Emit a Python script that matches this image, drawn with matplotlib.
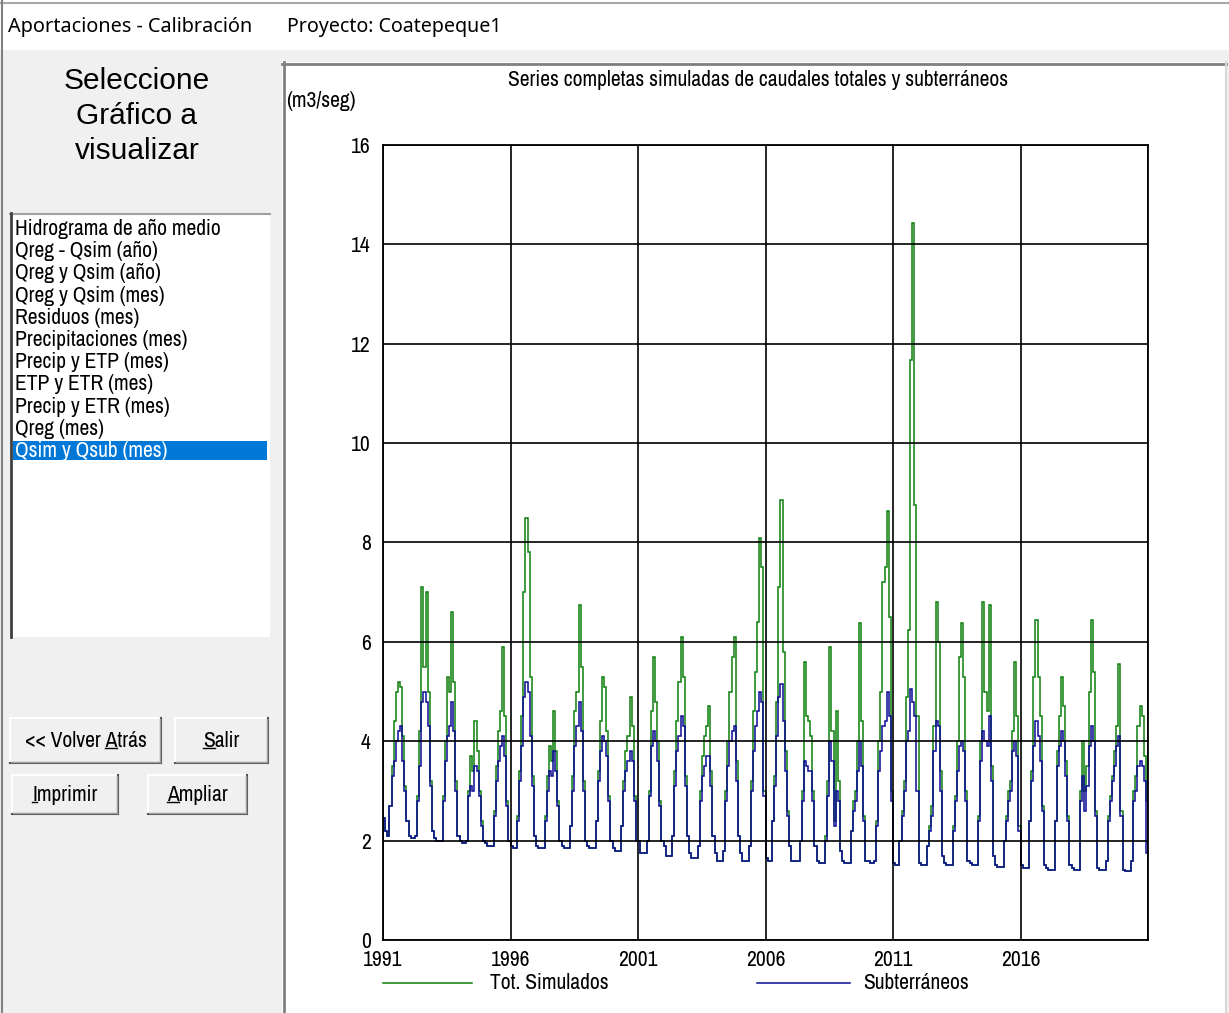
import numpy as np
import matplotlib
matplotlib.use('Agg')
import matplotlib.pyplot as plt
from matplotlib.patches import Rectangle
from matplotlib import font_manager as fm

# monthly simulated flows (m3/seg), one row per year, Jan..Dec
years = list(range(1991, 2021))
tot_sim = [
    [2.45, 2.2, 2.1, 2.7, 3.5, 4.4, 5.0, 5.2, 5.1, 4.1, 3.1, 2.4],    # 1991
    [2.1, 2.05, 2.05, 2.1, 2.9, 4.2, 7.1, 5.5, 7.0, 5.0, 3.2, 2.2],   # 1992
    [2.05, 2.0, 2.0, 2.0, 2.9, 4.0, 5.3, 5.0, 6.6, 5.2, 3.2, 2.1],    # 1993
    [2.0, 1.95, 1.95, 2.0, 3.0, 3.7, 3.4, 4.4, 3.8, 3.0, 2.4, 2.0],   # 1994
    [1.95, 1.9, 1.9, 1.9, 2.6, 3.5, 4.2, 4.6, 5.9, 4.5, 2.8, 2.0],    # 1995
    [1.9, 1.85, 1.85, 2.5, 3.4, 4.5, 7.0, 8.5, 7.8, 5.3, 3.3, 2.1],   # 1996
    [1.9, 1.85, 1.85, 1.85, 2.5, 3.3, 3.9, 3.6, 4.6, 3.8, 2.8, 2.0],  # 1997
    [1.9, 1.85, 1.85, 1.85, 2.3, 3.3, 4.6, 5.0, 6.75, 5.5, 3.2, 2.0], # 1998
    [1.9, 1.85, 1.85, 1.85, 2.4, 3.4, 4.4, 5.3, 5.1, 4.2, 2.9, 2.0],  # 1999
    [1.85, 1.8, 1.8, 1.8, 2.3, 3.2, 3.8, 4.1, 4.9, 4.3, 2.9, 2.0],    # 2000
    [2.0, 1.75, 1.75, 1.75, 2.0, 3.0, 4.6, 5.7, 4.8, 4.0, 2.8, 2.0],  # 2001
    [1.9, 1.7, 1.7, 1.7, 2.1, 3.4, 4.4, 5.2, 6.1, 5.3, 3.3, 2.1],     # 2002
    [1.75, 1.65, 1.65, 1.65, 1.9, 3.0, 3.7, 4.1, 4.3, 4.7, 3.4, 2.1], # 2003
    [1.75, 1.6, 1.6, 1.6, 1.8, 3.0, 4.0, 5.0, 5.7, 6.1, 3.6, 2.1],    # 2004
    [1.75, 1.6, 1.6, 1.6, 1.9, 3.2, 4.6, 5.4, 6.4, 8.1, 7.5, 3.0],    # 2005
    [1.65, 1.6, 1.6, 2.4, 3.3, 4.8, 7.1, 8.85, 5.8, 3.8, 2.6, 1.9],   # 2006
    [1.6, 1.6, 1.6, 1.6, 2.0, 3.0, 5.6, 4.5, 4.4, 4.1, 3.0, 1.9],     # 2007
    [1.6, 1.55, 1.55, 1.55, 2.1, 3.2, 5.9, 4.2, 2.4, 4.6, 3.2, 1.8],  # 2008
    [1.6, 1.55, 1.55, 1.55, 2.2, 2.8, 3.0, 4.0, 6.37, 4.4, 2.5, 1.6], # 2009
    [1.6, 1.55, 1.55, 1.6, 2.4, 4.0, 5.0, 7.2, 7.5, 8.63, 6.5, 3.0],  # 2010
    [1.55, 1.5, 1.5, 2.0, 2.6, 3.2, 4.9, 6.24, 11.67, 14.43, 8.76, 4.5],  # 2011
    [1.55, 1.5, 1.5, 1.5, 1.9, 2.3, 2.7, 4.3, 6.8, 6.0, 3.4, 1.7],    # 2012
    [1.55, 1.5, 1.5, 1.5, 2.3, 2.9, 4.0, 5.7, 6.38, 5.3, 3.0, 1.6],   # 2013
    [1.55, 1.5, 1.5, 1.5, 2.5, 4.0, 6.8, 5.0, 4.6, 6.75, 3.5, 1.7],   # 2014
    [1.5, 1.47, 1.47, 1.47, 2.0, 2.5, 3.0, 3.2, 4.2, 5.6, 4.5, 2.3],  # 2015
    [1.5, 1.45, 1.45, 1.45, 2.4, 3.4, 5.3, 6.45, 5.3, 4.5, 2.7, 1.5], # 2016
    [1.45, 1.4, 1.4, 1.4, 2.4, 3.8, 4.5, 5.3, 4.7, 3.6, 2.5, 1.5],    # 2017
    [1.45, 1.4, 1.4, 1.4, 3.0, 4.0, 3.0, 3.5, 5.0, 6.45, 5.4, 2.6],   # 2018
    [1.45, 1.4, 1.4, 1.4, 1.6, 2.5, 2.9, 3.3, 3.8, 4.3, 5.55, 2.6],   # 2019
    [1.4, 1.38, 1.38, 1.38, 1.6, 3.0, 3.3, 4.3, 4.7, 4.5, 3.7, 2.8],  # 2020
]
subterraneos = [
    [2.45, 2.2, 2.1, 2.7, 3.3, 3.6, 4.0, 4.2, 4.3, 3.6, 3.0, 2.4],    # 1991
    [2.1, 2.05, 2.05, 2.1, 2.8, 3.5, 4.8, 5.0, 4.8, 4.3, 3.1, 2.2],   # 1992
    [2.05, 2.0, 2.0, 2.0, 2.8, 3.6, 4.1, 4.3, 4.8, 4.2, 3.0, 2.1],    # 1993
    [2.0, 1.95, 1.95, 2.0, 2.9, 3.1, 3.0, 3.5, 3.4, 2.9, 2.3, 2.0],   # 1994
    [1.95, 1.9, 1.9, 1.9, 2.5, 3.2, 3.6, 3.9, 4.1, 3.7, 2.7, 2.0],    # 1995
    [1.9, 1.85, 1.85, 2.4, 3.2, 3.9, 4.9, 5.2, 5.0, 4.1, 3.1, 2.1],   # 1996
    [1.9, 1.85, 1.85, 1.85, 2.4, 3.0, 3.4, 3.3, 3.8, 3.4, 2.7, 2.0],  # 1997
    [1.9, 1.85, 1.85, 1.85, 2.3, 3.0, 3.9, 4.3, 4.8, 4.2, 3.0, 2.0],  # 1998
    [1.9, 1.85, 1.85, 1.85, 2.4, 3.2, 3.8, 4.1, 4.0, 3.7, 2.8, 2.0],  # 1999
    [1.85, 1.8, 1.8, 1.8, 2.3, 3.0, 3.4, 3.6, 3.8, 3.6, 2.8, 2.0],    # 2000
    [2.0, 1.75, 1.75, 1.75, 2.0, 2.9, 3.9, 4.2, 4.0, 3.6, 2.7, 2.0],  # 2001
    [1.9, 1.7, 1.7, 1.7, 2.1, 3.1, 3.8, 4.1, 4.5, 4.3, 3.1, 2.1],     # 2002
    [1.75, 1.65, 1.65, 1.65, 1.9, 2.8, 3.3, 3.5, 3.7, 3.7, 3.1, 2.1], # 2003
    [1.75, 1.6, 1.6, 1.6, 1.8, 2.8, 3.5, 4.0, 4.2, 4.3, 3.2, 2.1],    # 2004
    [1.75, 1.6, 1.6, 1.6, 1.9, 3.0, 3.8, 4.3, 4.6, 5.0, 4.8, 2.9],    # 2005
    [1.65, 1.6, 1.6, 2.4, 3.1, 4.1, 4.9, 5.15, 4.4, 3.4, 2.5, 1.9],   # 2006
    [1.6, 1.6, 1.6, 1.6, 2.0, 2.8, 3.6, 3.5, 3.4, 3.4, 2.8, 1.9],     # 2007
    [1.6, 1.55, 1.55, 1.55, 2.0, 2.9, 4.0, 3.6, 2.3, 3.0, 2.8, 1.8],  # 2008
    [1.6, 1.55, 1.55, 1.55, 2.2, 2.6, 2.8, 3.4, 4.0, 3.5, 2.4, 1.6],  # 2009
    [1.6, 1.55, 1.55, 1.6, 2.3, 3.4, 3.8, 4.3, 4.4, 5.0, 4.5, 2.8],   # 2010
    [1.55, 1.5, 1.5, 2.0, 2.5, 3.0, 4.0, 4.2, 5.05, 4.8, 4.5, 3.0],   # 2011
    [1.55, 1.5, 1.5, 1.5, 1.9, 2.2, 2.5, 3.8, 4.4, 4.3, 3.0, 1.7],    # 2012
    [1.55, 1.5, 1.5, 1.5, 2.2, 2.8, 3.4, 3.9, 4.0, 3.8, 2.8, 1.6],    # 2013
    [1.55, 1.5, 1.5, 1.5, 2.4, 3.6, 4.2, 4.0, 3.9, 4.5, 3.2, 1.7],    # 2014
    [1.5, 1.47, 1.47, 1.47, 2.0, 2.4, 2.8, 3.0, 3.8, 4.0, 3.7, 2.2],  # 2015
    [1.5, 1.45, 1.45, 1.45, 2.4, 3.2, 3.9, 4.4, 4.1, 3.6, 2.6, 1.5],  # 2016
    [1.45, 1.4, 1.4, 1.4, 2.4, 3.5, 3.9, 4.2, 4.0, 3.3, 2.4, 1.5],    # 2017
    [1.45, 1.4, 1.4, 1.4, 2.8, 3.3, 2.6, 3.1, 3.9, 4.3, 4.0, 2.5],    # 2018
    [1.45, 1.4, 1.4, 1.4, 1.6, 2.4, 2.8, 3.2, 3.5, 3.9, 4.1, 2.5],    # 2019
    [1.4, 1.38, 1.38, 1.38, 1.6, 2.8, 3.0, 3.5, 3.6, 3.5, 3.2, 1.75], # 2020
]
y_ticks = [0, 2, 4, 6, 8, 10, 12, 14, 16]
x_ticks = [1991, 1996, 2001, 2006, 2011, 2016, 2021]
x_labels = ['1991', '1996', '2001', '2006', '2011', '2016', '']
menu_items = ['Hidrograma de año medio', 'Qreg - Qsim (año)', 'Qreg y Qsim (año)',
              'Qreg y Qsim (mes)', 'Residuos (mes)', 'Precipitaciones (mes)',
              'Precip y ETP (mes)', 'ETP y ETR (mes)', 'Precip y ETR (mes)',
              'Qreg (mes)', 'Qsim y Qsub (mes)']

# the app draws its text in a narrow face; take one if there is one
fonts = fm.fontManager.ttflist
names = {f.name for f in fonts}
NARROW, STRETCH = 'Roboto', 'normal'
for n in ['Liberation Sans Narrow', 'Arial Narrow', 'Archivo Narrow']:
    if n in names:
        NARROW, STRETCH = n, 'condensed'
        break
UI = 'Noto Sans'
ARIAL = 'Liberation Sans'
NK = dict(family=NARROW, fontstretch=STRETCH)
FS = 15.5

W, H = 1229, 1013
fig = plt.figure(figsize=(W / 100, H / 100), dpi=100)
fig.patch.set_facecolor('#f0f0f0')

# pixel-space layer for the window chrome
bg = fig.add_axes([0, 0, 1, 1])
bg.set_xlim(0, W)
bg.set_ylim(H, 0)
bg.axis('off')

bg.add_patch(Rectangle((0, 0), W, 50, fc='white', ec='none'))
bg.plot([0, W], [3, 3], color='#a8a8a8', lw=1.5)
bg.plot([1.5, 1.5], [0, H], color='#808080', lw=1.5)
bg.text(8, 27, 'Aportaciones - Calibración', fontsize=14.3, family=UI, va='center')
bg.text(287, 27, 'Proyecto: Coatepeque1', fontsize=14.1, family=UI, va='center')

bg.text(137, 116, 'Seleccione\nGráfico a\nvisualizar', fontsize=21.5, family=ARIAL,
        ha='center', va='center', linespacing=1.33)

# list box
bg.add_patch(Rectangle((10, 213), 260, 424, fc='white', ec='none'))
bg.plot([10, 270], [213.5, 213.5], color='#a0a0a0', lw=1.5)
bg.plot([11, 11], [213, 637], color='#404040', lw=2)
bg.add_patch(Rectangle((13, 441), 254, 19, fc='#0078d7', ec='none'))
for i, s in enumerate(menu_items):
    sel = i == len(menu_items) - 1
    bg.text(15, 229 + i * 22.2, s, fontsize=FS, va='center',
            color='white' if sel else 'black', **NK)

r = fig.canvas.get_renderer()
inv = bg.transData.inverted()


def button(x0, y0, x1, y1, label, idx):
    bg.add_patch(Rectangle((x0, y0), x1 - x0, y1 - y0, fc='#f0f0f0', ec='none'))
    bg.plot([x0, x1], [y0, y0], color='white', lw=1.5)
    bg.plot([x0, x0], [y0, y1], color='white', lw=1.5)
    bg.plot([x0, x1], [y1, y1], color='#505050', lw=1.5)
    bg.plot([x1, x1], [y0, y1], color='#505050', lw=1.5)
    bg.plot([x0 + 1, x1 - 1], [y1 - 1.5, y1 - 1.5], color='#a0a0a0', lw=1)
    bg.plot([x1 - 1.5, x1 - 1.5], [y0 + 1, y1 - 1], color='#a0a0a0', lw=1)
    kw = dict(fontsize=FS, **NK)
    t = bg.text((x0 + x1) / 2, (y0 + y1) / 2, label, ha='center', va='center', **kw)
    bb = t.get_window_extent(r)
    tmp = bg.text(0, 0, label[:idx] + 'x', **kw)
    w0 = tmp.get_window_extent(r).width
    tmp.remove()
    tmp = bg.text(0, 0, 'x', **kw)
    wx = tmp.get_window_extent(r).width
    tmp.remove()
    tmp = bg.text(0, 0, label[idx], **kw)
    w1 = tmp.get_window_extent(r).width
    tmp.remove()
    a = inv.transform((bb.x0 + w0 - wx, bb.y0 + 3))
    b = inv.transform((bb.x0 + w0 - wx + w1, bb.y0 + 3))
    bg.plot([a[0], b[0]], [a[1], a[1]], color='black', lw=1)


button(10, 718, 161, 763, '<< Volver Atrás', 10)
button(175, 718, 268, 763, 'Salir', 0)
button(12, 775, 118, 814, 'Imprimir', 0)
button(148, 775, 247, 814, 'Ampliar', 0)

# chart panel
bg.add_patch(Rectangle((282, 62), 943, H - 62, fc='white', ec='none'))
bg.plot([282, 1226], [63.5, 63.5], color='#808080', lw=2)
bg.plot([283.5, 283.5], [62, H], color='#808080', lw=2)
bg.plot([1225.5, 1225.5], [62, H], color='#d8d8d8', lw=1.5)
bg.text(758, 80, 'Series completas simuladas de caudales totales y subterráneos',
        fontsize=FS, ha='center', va='center', **NK)
bg.text(286, 101, '(m3/seg)', fontsize=FS, va='center', **NK)

ax = fig.add_axes([383 / W, (H - 940) / H, 765 / W, 795 / H])
ax.set_facecolor('white')
edges = 1991 + np.arange(len(years) * 12 + 1) / 12
ax.stairs(np.ravel(tot_sim), edges, color='#0b800b', lw=1.1)
ax.stairs(np.ravel(subterraneos), edges, color='#0a0a96', lw=1.1)
ax.set_xlim(1991, 2021)
ax.set_ylim(0, 16)
ax.set_xticks(x_ticks)
ax.set_xticklabels(x_labels)
ax.set_yticks(y_ticks)
ax.tick_params(length=0, labelsize=FS, pad=9)
for lab in ax.get_xticklabels() + ax.get_yticklabels():
    lab.set_family(NARROW)
    lab.set_stretch(STRETCH)
ax.tick_params(axis='x', pad=7)
ax.grid(True, color='black', lw=1.2)
for sp in ax.spines.values():
    sp.set_color('black')
    sp.set_linewidth(1.3)

# legend row
bg.plot([383, 472], [983, 983], color='#0b800b', lw=1.1)
bg.text(490, 983, 'Tot. Simulados', fontsize=FS, va='center', **NK)
bg.plot([757, 850], [983, 983], color='#0a0a96', lw=1.1)
bg.text(863, 983, 'Subterráneos', fontsize=FS, va='center', **NK)

fig.savefig('out.png', dpi=100, facecolor=fig.get_facecolor())
